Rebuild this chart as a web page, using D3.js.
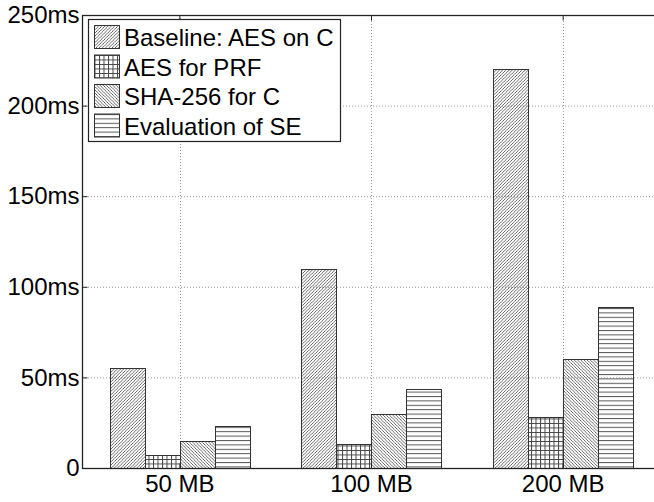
<!DOCTYPE html>
<html lang="en">
<head>
    <meta charset="UTF-8">
    <title>Encryption timing</title>
    <script src="https://cdn.jsdelivr.net/npm/d3@7"></script>
    <style>
        html, body {
            margin: 0;
            background: white;
        }
        svg text {
            font-family: "Liberation Sans", Arial, sans-serif;
            fill: black;
        }
    </style>
</head>
<body>
    <div id="vis"></div>
    <script>

        // data
        var sizes = ["50 MB", "100 MB", "200 MB"];
        var series = ["Baseline: AES on C", "AES for PRF", "SHA-256 for C", "Evaluation of SE"];
        var baseline = [55, 110, 220];
        var aesPrf = [7, 13.5, 28];
        var sha256 = [15, 30, 60];
        var evalSE = [23, 43.5, 89];
        var yTicks = [0, 50, 100, 150, 200, 250];
        var patternIds = ["p-fwd", "p-grid", "p-back", "p-horiz"];

        var values = [baseline, aesPrf, sha256, evalSE];

        var width = 654,
            height = 502;

        var plot = { left: 82, top: 15, right: 662, bottom: 468 };

        var svg = d3.select('#vis')
                    .append('svg')
                        .attr('width', width)
                        .attr('height', height);

        // hatch patterns
        var defs = svg.append('defs');
        var ink = '#444';

        var fwd = defs.append('pattern')
            .attr('id', 'p-fwd')
            .attr('patternUnits', 'userSpaceOnUse')
            .attr('width', 3.2).attr('height', 3.2);
        fwd.append('path')
            .attr('d', 'M-0.8,0.8 L0.8,-0.8 M0,3.2 L3.2,0 M2.4,4 L4,2.4')
            .attr('stroke', ink).attr('stroke-width', 0.8);

        var back = defs.append('pattern')
            .attr('id', 'p-back')
            .attr('patternUnits', 'userSpaceOnUse')
            .attr('width', 3.2).attr('height', 3.2);
        back.append('path')
            .attr('d', 'M-0.8,2.4 L0.8,4 M0,0 L3.2,3.2 M2.4,-0.8 L4,0.8')
            .attr('stroke', ink).attr('stroke-width', 0.8);

        var grid = defs.append('pattern')
            .attr('id', 'p-grid')
            .attr('patternUnits', 'userSpaceOnUse')
            .attr('width', 4.5).attr('height', 4.5);
        grid.append('path')
            .attr('d', 'M0.5,0 L0.5,4.5 M0,0.5 L4.5,0.5')
            .attr('stroke', ink).attr('stroke-width', 1);

        var horiz = defs.append('pattern')
            .attr('id', 'p-horiz')
            .attr('patternUnits', 'userSpaceOnUse')
            .attr('width', 8).attr('height', 4.4);
        horiz.append('path')
            .attr('d', 'M0,0.5 L8,0.5')
            .attr('stroke', '#555').attr('stroke-width', 1);

        // scales
        var x_scale = d3.scaleBand()
                    .domain(sizes)
                    .range([84, 659]);

        var groupWidth = 140;
        var x_inner = d3.scaleBand()
                    .domain(series)
                    .range([-groupWidth / 2, groupWidth / 2]);

        var y_scale = d3.scaleLinear()
                    .domain([0, 250])
                    .range([plot.bottom, plot.top]);

        function centre(c) { return x_scale(c) + x_scale.bandwidth() / 2; }

        // grid lines
        svg.append('g')
            .selectAll('line')
            .data(yTicks.slice(1, -1))
            .enter()
            .append('line')
            .attr('x1', plot.left).attr('x2', plot.right)
            .attr('y1', function(d){ return y_scale(d) + 0.5; })
            .attr('y2', function(d){ return y_scale(d) + 0.5; })
            .attr('stroke', '#999')
            .attr('stroke-dasharray', '1,2');

        svg.append('g')
            .selectAll('line')
            .data(sizes)
            .enter()
            .append('line')
            .attr('x1', function(d){ return Math.round(centre(d)) + 0.5; })
            .attr('x2', function(d){ return Math.round(centre(d)) + 0.5; })
            .attr('y1', plot.top).attr('y2', plot.bottom)
            .attr('stroke', '#999')
            .attr('stroke-dasharray', '1,2');

        // bars
        var groups = svg.append('g')
            .selectAll('g')
            .data(series)
            .enter()
            .append('g');

        groups.selectAll('rect')
            .data(function(s, i){
                return sizes.map(function(c, j){ return { s: s, i: i, c: c, v: values[i][j] }; });
            })
            .enter()
            .append('rect')
            .attr('x', function(d){ return Math.round(centre(d.c) + x_inner(d.s)) + 0.5; })
            .attr('y', function(d){ return Math.round(y_scale(d.v)) + 0.5; })
            .attr('width', Math.round(x_inner.bandwidth()))
            .attr('height', function(d){ return Math.round(y_scale(0)) - Math.round(y_scale(d.v)); })
            .attr('fill', function(d){ return 'url(#' + patternIds[d.i] + ')'; })
            .attr('stroke', '#333')
            .attr('stroke-width', 1);

        // axes box
        svg.append('rect')
            .attr('x', plot.left + 0.5)
            .attr('y', plot.top + 0.5)
            .attr('width', plot.right - plot.left)
            .attr('height', plot.bottom - plot.top)
            .attr('fill', 'none')
            .attr('stroke', '#222')
            .attr('stroke-width', 1.3);

        var y_axis = d3.axisLeft(y_scale)
            .tickValues(yTicks)
            .tickSizeInner(-5)
            .tickSizeOuter(0)
            .tickPadding(3)
            .tickFormat(function(d){ return d === 0 ? '0' : d + 'ms'; });

        var yg = svg.append('g')
            .attr('transform', 'translate(' + (plot.left + 0.5) + ',0)')
            .call(y_axis);
        yg.select('.domain').remove();
        yg.selectAll('text')
            .style('font-size', '24px')
            .attr('fill', 'black');
        yg.selectAll('line').attr('stroke', '#222');

        var x_axis = d3.axisBottom(x_scale)
            .tickSizeInner(-5)
            .tickSizeOuter(0)
            .tickPadding(6);

        var xg = svg.append('g')
            .attr('transform', 'translate(0,' + (plot.bottom + 0.5) + ')')
            .call(x_axis);
        xg.select('.domain').remove();
        xg.selectAll('text')
            .style('font-size', '24px')
            .attr('fill', 'black');
        xg.selectAll('line').attr('stroke', '#222');

        var x_top = d3.axisTop(x_scale)
            .tickSizeInner(-5)
            .tickSizeOuter(0)
            .tickFormat('');
        var xt = svg.append('g')
            .attr('transform', 'translate(0,' + (plot.top + 0.5) + ')')
            .call(x_top);
        xt.select('.domain').remove();
        xt.selectAll('line').attr('stroke', '#222');

        // legend
        var legend = svg.append('g');
        legend.append('rect')
            .attr('x', 88.5).attr('y', 19.5)
            .attr('width', 252).attr('height', 122)
            .attr('fill', 'white')
            .attr('stroke', '#222')
            .attr('stroke-width', 1.2);

        var items = legend.selectAll('.item')
            .data(series)
            .enter()
            .append('g')
            .attr('class', 'item')
            .attr('transform', function(d, i){ return 'translate(0,' + (25.5 + i * 29.5) + ')'; });

        items.append('rect')
            .attr('x', 94.5).attr('y', 0)
            .attr('width', 25).attr('height', 23)
            .attr('fill', function(d, i){ return 'url(#' + patternIds[i] + ')'; })
            .attr('stroke', '#333');

        items.append('text')
            .attr('x', 124)
            .attr('y', 12)
            .attr('dy', '0.36em')
            .style('font-size', '24px')
            .text(function(d){ return d; });

    </script>
</body>
</html>
